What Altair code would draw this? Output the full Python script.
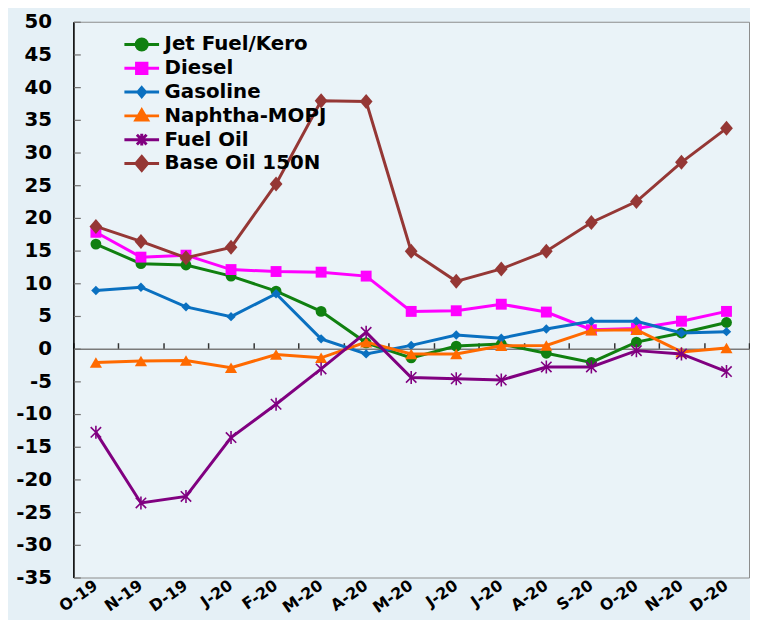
import altair as alt
import pandas as pd

months = ["O-19", "N-19", "D-19", "J-20", "F-20", "M-20", "A-20", "M-20",
          "J-20", "J-20", "A-20", "S-20", "O-20", "N-20", "D-20"]

names = ["Jet Fuel/Kero", "Diesel", "Gasoline", "Naphtha-MOPJ", "Fuel Oil", "\u00a0Base Oil 150N"]

jet = [16.0, 13.0, 12.8, 11.1, 8.8, 5.7, 0.9, -1.4, 0.4, 0.7, -0.7, -2.1, 1.0, 2.4, 4.0]
diesel = [17.8, 14.0, 14.3, 12.1, 11.8, 11.7, 11.1, 5.7, 5.8, 6.8, 5.6, 2.9, 3.1, 4.2, 5.7]
gasoline = [8.9, 9.4, 6.4, 4.9, 8.4, 1.5, -0.8, 0.5, 2.1, 1.6, 3.0, 4.2, 4.2, 2.4, 2.6]
naphtha = [-2.1, -1.9, -1.8, -2.9, -0.9, -1.4, 1.0, -0.8, -0.8, 0.45, 0.5, 2.8, 2.9, -0.5, 0.1]
fuel_oil = [-12.8, -23.6, -22.6, -13.6, -8.5, -3.1, 2.5, -4.4, -4.6, -4.8, -2.8, -2.8, -0.3, -0.8, -3.5]
base_oil = [18.7, 16.4, 13.9, 15.5, 25.2, 37.9, 37.8, 14.9, 10.3, 12.2, 14.9, 19.3, 22.5, 28.5, 33.7]

series_values = [jet, diesel, gasoline, naphtha, fuel_oil, base_oil]
colors = ["#108010", "#ff00ff", "#0a70c0", "#ff6a00", "#800080", "#953735"]

y_ticks = list(range(-35, 55, 5))

# marker styles (shape, size, filled)
markers = [
    ("circle", 120, True),
    ("square", 121, True),
    ("diamond", 90, True),
    ("triangle-up", 150, True),
    ("M-1,-1L1,1M-1,1L1,-1M0,-1.25L0,1.25", 110, False),
    ("M0,-1L0.85,0L0,1L-0.85,0Z", 230, True),
]

# legend symbols: a horizontal line plus the marker
leg_paths = [
    "M-1,0L1,0M-0.32,0A0.32,0.32 0 1,0 0.32,0A0.32,0.32 0 1,0 -0.32,0Z",
    "M-1,0L1,0M-0.3,-0.3L0.3,-0.3L0.3,0.3L-0.3,0.3Z",
    "M-1,0L1,0M0,-0.26L0.22,0L0,0.26L-0.22,0Z",
    "M-1,0L1,0M0,-0.34L0.34,0.24L-0.34,0.24Z",
    "M-1,0L1,0M-0.28,-0.28L0.28,0.28M-0.28,0.28L0.28,-0.28M0,-0.34L0,0.34",
    "M-1,0L1,0M0,-0.4L0.34,0L0,0.4L-0.34,0Z",
]

rows = []
for name, vals in zip(names, series_values):
    for i, v in enumerate(vals):
        rows.append({"series": name, "idx": i, "value": v})
df = pd.DataFrame(rows)

W, H = 682, 561
FONT = "DejaVu Sans"

xscale = alt.Scale(type="band", domain=list(range(len(months))), paddingInner=0, paddingOuter=0)
yscale = alt.Scale(domain=[-35, 50], nice=False, zero=False)

label_expr = "[" + ",".join("'%s'" % m for m in months) + "][datum.value]"
ylabel_expr = "datum.value < 0 ? '-' + abs(datum.value) : '' + datum.value"

# axis carrier 1: labels
ax1 = alt.Chart(df).mark_point(opacity=0).encode(
    x=alt.X("idx:O", scale=xscale, title=None,
            axis=alt.Axis(orient="bottom", domain=False, ticks=False, grid=False,
                          labelAngle=-35, labelAlign="right", labelBaseline="middle",
                          labelPadding=6, labelExpr=label_expr, labelFont=FONT,
                          labelFontSize=16, labelFontWeight="bold", labelColor="black")),
    y=alt.Y("value:Q", scale=yscale, title=None,
            axis=alt.Axis(orient="left", values=y_ticks, ticks=False, grid=False,
                          domainColor="black", domainWidth=1.5, labelPadding=22,
                          labelExpr=ylabel_expr,
                          labelFont=FONT, labelFontSize=20, labelFontWeight="bold",
                          labelColor="black")),
)

# axis carrier 2: zero line with band ticks, inward y ticks
ax2 = alt.Chart(df).mark_point(opacity=0).encode(
    x=alt.X("idx:O", scale=xscale, title=None,
            axis=alt.Axis(orient="top", offset=-round(H * 50 / 85), labels=False, grid=False,
                          domainColor="#7a7a7a", domainWidth=1.5, tickColor="#333333",
                          tickSize=6, tickWidth=1.5, tickBand="extent")),
    y=alt.Y("value:Q", scale=yscale, title=None,
            axis=alt.Axis(orient="right", offset=-W, values=y_ticks, labels=False,
                          domain=False, grid=False, tickColor="#707070", tickSize=7,
                          tickWidth=1.2)),
)

layers = [ax1, ax2]
for name, col, (shape, size, filled) in zip(names, colors, markers):
    sub = df[df["series"] == name]
    base = alt.Chart(sub).encode(
        x=alt.X("idx:O", scale=xscale, axis=None),
        y=alt.Y("value:Q", scale=yscale, axis=None),
    )
    layers.append(base.mark_line(color=col, strokeWidth=3))
    if filled:
        layers.append(base.mark_point(shape=shape, size=size, filled=True, color=col, opacity=1))
    else:
        layers.append(base.mark_point(shape=shape, size=size, filled=False, color=col,
                                      strokeWidth=1.6, opacity=1))

leg = alt.Legend(title=None, orient="none", legendX=50, legendY=13, padding=0,
                 symbolSize=1225, symbolStrokeWidth=3, symbolOpacity=1,
                 labelFont=FONT, labelFontSize=20, labelFontWeight="bold",
                 labelColor="black", labelOffset=4, rowPadding=4, clipHeight=20,
                 labelLimit=400)

legend_layer = alt.Chart(df).mark_point(opacity=0, filled=True).encode(
    x=alt.X("idx:O", scale=xscale, axis=None),
    y=alt.Y("value:Q", scale=yscale, axis=None),
    shape=alt.Shape("series:N", scale=alt.Scale(domain=names, range=leg_paths), legend=leg, sort=names),
    fill=alt.Fill("series:N", scale=alt.Scale(domain=names, range=colors), legend=leg, sort=names),
    stroke=alt.Stroke("series:N", scale=alt.Scale(domain=names, range=colors), legend=leg, sort=names),
)
layers.append(legend_layer)

chart = alt.layer(*layers).resolve_axis(x="independent", y="independent").properties(
    width=W, height=H,
    padding={"left": 66, "top": 11, "right": 1, "bottom": 40},
    autosize=alt.AutoSizeParams(type="none"),
    background="#e5f0f6",
).configure_view(stroke="#8c8c8c", strokeWidth=1, fill="#eaf3f8")

chart.save("out.html", embed_options={"renderer": "svg", "actions": False})
